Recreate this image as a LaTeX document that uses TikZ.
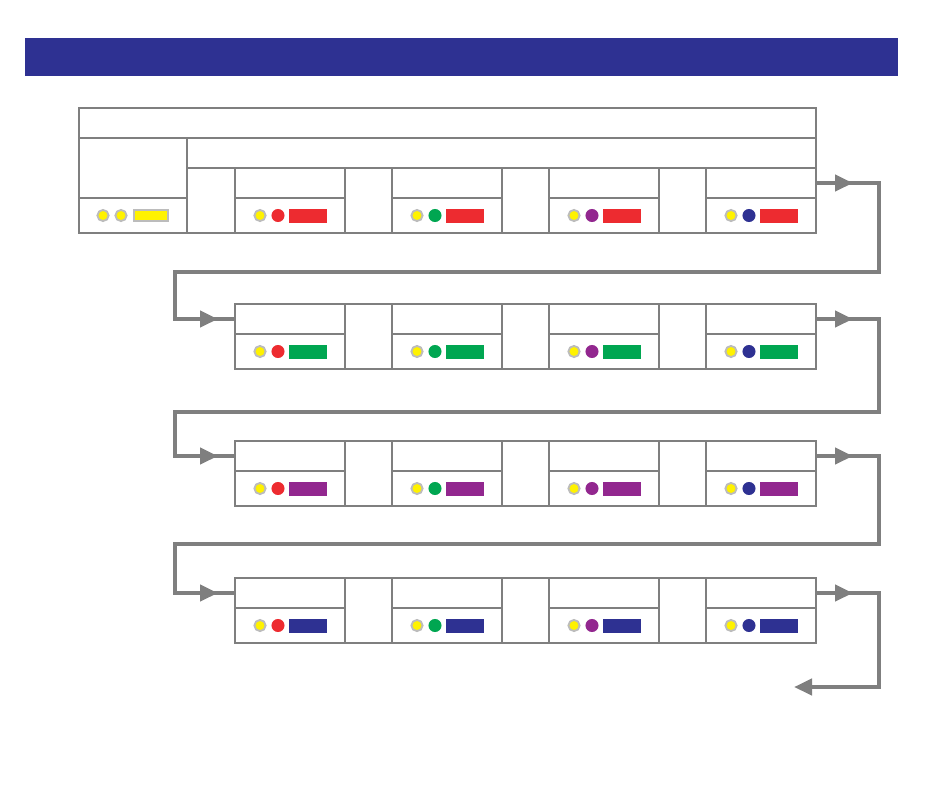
\documentclass[tikz,border=0pt]{standalone}
\usetikzlibrary{arrows.meta}
\definecolor{linegray}{HTML}{7F7F7F}
\definecolor{ringgray}{HTML}{BCBCBC}
\definecolor{cyellow}{HTML}{FFF200}
\definecolor{cred}{HTML}{ED2B30}
\definecolor{cgreen}{HTML}{00A651}
\definecolor{cpurple}{HTML}{92278F}
\definecolor{cblue}{HTML}{2E3192}
\tikzset{
  cellbox/.style={draw=linegray, line width=1pt, inner sep=0pt, outer sep=0pt, minimum width=82.5pt, anchor=north west},
  frame/.style={draw=linegray, line width=1.6pt},
  flow/.style={draw=linegray, line width=3.2pt},
  tip/.style={flow, -{Triangle[length=13.5pt, width=12pt]}},
  lamp/.style={fill=cyellow, draw=ringgray, line width=1.4pt},
}

\begin{document}
\begin{tikzpicture}[x=0.75pt, y=-0.75pt]
  \useasboundingbox (0,0) rectangle (950,794);
  \fill[cblue] (25,38) rectangle (898,76);
  % top table
  \node[cellbox, minimum width=552.75pt, minimum height=22.5pt] (title) at (79,108) {};
  \node[cellbox, minimum width=81pt, minimum height=45pt] (side) at (79,138) {};
  \node[cellbox, minimum width=81pt, minimum height=26.25pt] (sidelow) at (79,198) {};
  \node[cellbox, minimum width=471.75pt, minimum height=22.5pt] (span) at (187,138) {};
  \filldraw[lamp] (103,215.5) circle[radius=4.2pt];
  \filldraw[lamp] (121,215.5) circle[radius=4.2pt];
  \filldraw[lamp] (134,210) rectangle (168,221);
  % cells
  \foreach \rowno/\ytop/\barcol in {0/168/cred, 1/304/cgreen, 2/441/cpurple, 3/578/cblue}{
    \foreach \colno/\xl/\dotcol in {1/235/cred, 2/392/cgreen, 3/549/cpurple, 4/706/cblue}{
      \node[cellbox, minimum height=22.5pt] (t\rowno\colno) at (\xl,\ytop) {};
      \node[cellbox, minimum height=26.25pt] (b\rowno\colno) at (t\rowno\colno.south west) {};
      \filldraw[lamp] (\xl+25,\ytop+47.5) circle[radius=4.2pt];
      \fill[\dotcol] (\xl+43,\ytop+47.5) circle[radius=4.9pt];
      \fill[\barcol] (\xl+54,\ytop+40.5) rectangle (\xl+92,\ytop+54.5);
    }
  }
  \draw[frame] (title.north west) rectangle (b04.south east);
  \foreach \rowno in {1,2,3}
    \draw[frame] (t\rowno1.north west) rectangle (b\rowno4.south east);
  % connectors
  \coordinate (rightrail) at (879,0);
  \coordinate (leftrail) at (175,0);
  \coordinate (gap1) at (0,272);
  \coordinate (gap2) at (0,412);
  \coordinate (gap3) at (0,544);
  \coordinate (exit) at (794,687);
  \foreach \rowno/\nrow in {0/1, 1/2, 2/3}{
    \draw[flow] (t\rowno4.east) -- (t\rowno4.east -| rightrail) -- (rightrail |- gap\nrow)
      -- (leftrail |- gap\nrow) -- (leftrail |- t\nrow1.west) -- (t\nrow1.west);
    \draw[tip] (t\rowno4.east) -- ++(37,0);
    \draw[tip] (leftrail |- t\nrow1.west) -- ++(43,0);
  }
  \draw[tip] (t34.east) -- (t34.east -| rightrail) -- (rightrail |- exit) -- (exit);
  \draw[tip] (t34.east) -- ++(37,0);
\end{tikzpicture}
\end{document}
